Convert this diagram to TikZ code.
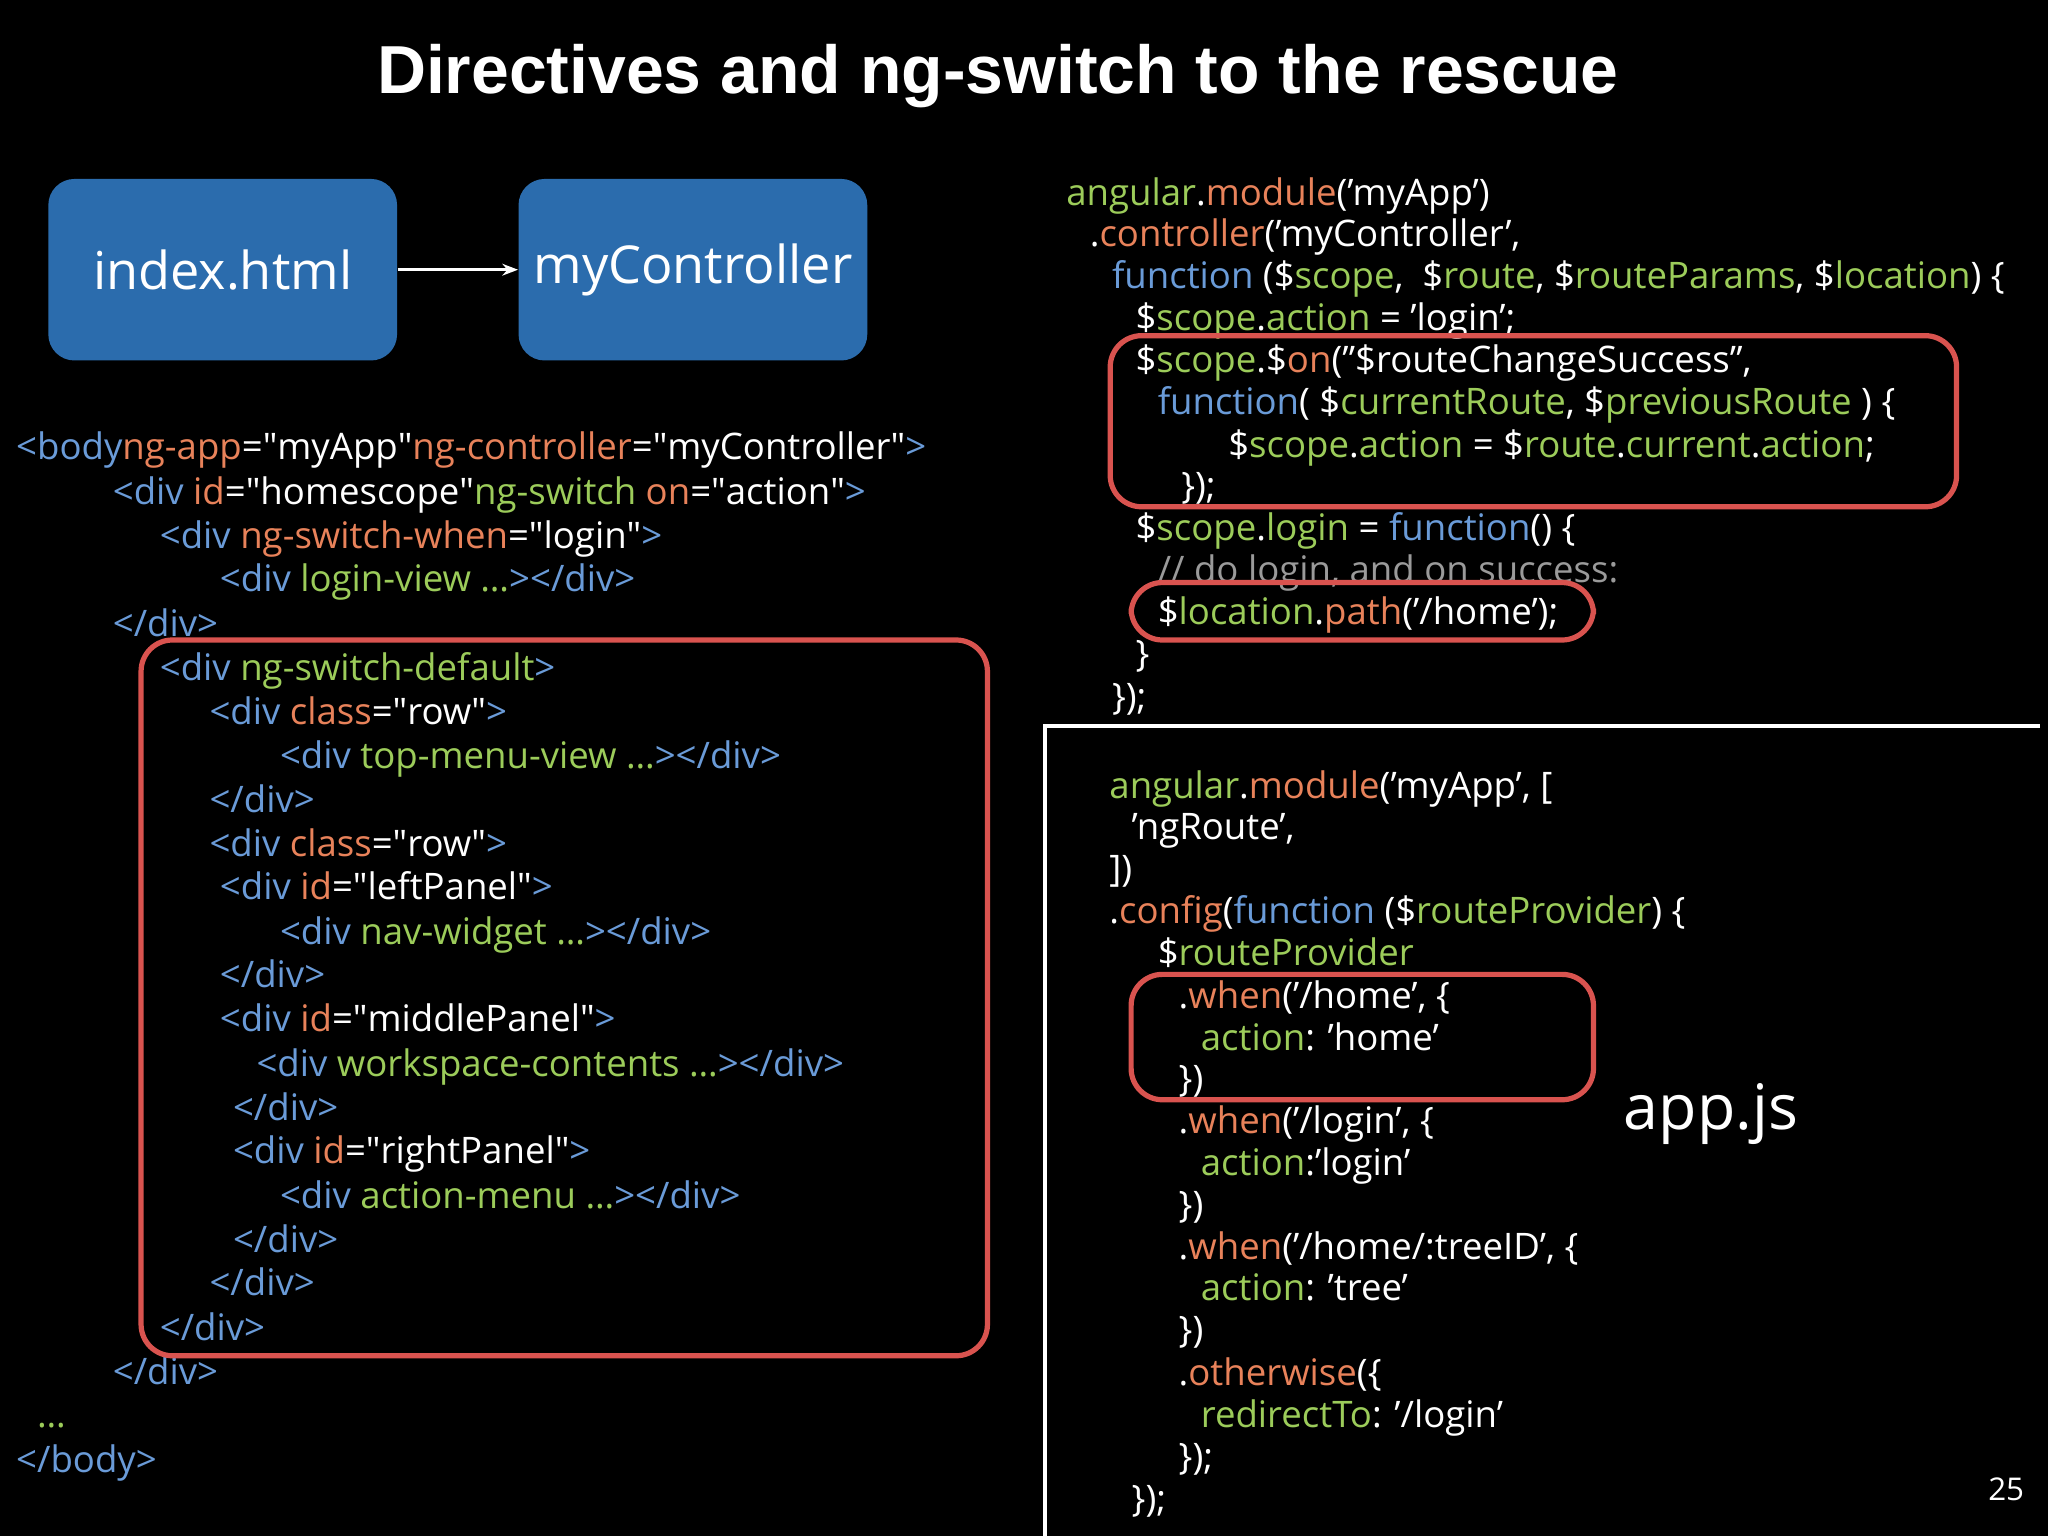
\documentclass[tikz,border=0pt]{standalone}
\usepackage{fontspec}
\setmainfont{Open Sans}
\newfontfamily\titlefont{Liberation Sans}
\usetikzlibrary{arrows.meta}
\definecolor{cb}{HTML}{6A9BD8}
\definecolor{co}{HTML}{E8825A}
\definecolor{cg}{HTML}{9CCC5A}
\definecolor{cgr}{HTML}{9A9A9A}
\definecolor{boxblue}{HTML}{2B6CAD}
\definecolor{redmark}{HTML}{D9534F}
\newcommand\cB[1]{\textcolor{cb}{#1}}
\newcommand\cO[1]{\textcolor{co}{#1}}
\newcommand\cG[1]{\textcolor{cg}{#1}}
\begin{document}
\begin{tikzpicture}[x=0.5pt,y=-0.5pt,
  code/.style={anchor=base west,inner sep=0pt,text=white,font=\fontsize{14}{16}\selectfont},
  blk/.style={fill=boxblue,rounded corners=10pt,text=white,font=\fontsize{20}{24}\selectfont,minimum width=133.5pt,minimum height=69.5pt,inner sep=0pt},
  redbox/.style={draw=redmark,line width=2pt,rounded corners=12pt}]
\fill[black] (0,0) rectangle (1568,1176);
\useasboundingbox (0,0) rectangle (1568,1176);
\node[text=white,font=\titlefont\bfseries\fontsize{26}{30}\selectfont] (title) at (764,58) {Directives and ng-switch to the rescue};
\node[blk] (idx) at (170.5,206.5) {index.html};
\node[blk] (ctl) at (530.5,206.5) {myController};
\draw[white,line width=1.3pt,-{Stealth[length=6pt]}] (idx.east) -- (ctl.west);
% left code
\node[code] (a1) at (12,352) {\cB{<body}\cO{ ng-app}=\textquotedbl myApp\textquotedbl\cO{ ng-controller}=\textquotedbl myController\textquotedbl\cB{>}};
\node[code] (a2) at (86,386) {\cB{<div }\cO{id}=\textquotedbl homescope\textquotedbl\cG{ ng-switch }\cO{on}=\textquotedbl action\textquotedbl\cB{>}};
\node[code] (a3) at (122,420) {\cB{<div }\cO{ng-switch-when}=\textquotedbl login\textquotedbl\cB{>}};
\node[code] (a4) at (168,453) {\cB{<div }\cG{login-view …}\cB{></div>}};
\node[code] (a5) at (86,487) {\cB{</div>}};
\node[code] (a6) at (122,521) {\cB{<div }\cG{ng-switch-default}\cB{>}};
\node[code] (a7) at (160,555) {\cB{<div }\cO{class}=\textquotedbl row\textquotedbl\cB{>}};
\node[code] (a8) at (214,588) {\cB{<div }\cG{top-menu-view …}\cB{></div>}};
\node[code] (a9) at (160,622) {\cB{</div>}};
\node[code] (a10) at (160,656) {\cB{<div }\cO{class}=\textquotedbl row\textquotedbl\cB{>}};
\node[code] (a11) at (168,689) {\cB{<div }\cO{id}=\textquotedbl leftPanel\textquotedbl\cB{>}};
\node[code] (a12) at (214,723) {\cB{<div }\cG{nav-widget …}\cB{></div>}};
\node[code] (a13) at (168,756) {\cB{</div>}};
\node[code] (a14) at (168,790) {\cB{<div }\cO{id}=\textquotedbl middlePanel\textquotedbl\cB{>}};
\node[code] (a15) at (196,824) {\cB{<div }\cG{workspace-contents …}\cB{></div>}};
\node[code] (a16) at (178,858) {\cB{</div>}};
\node[code] (a17) at (178,891) {\cB{<div }\cO{id}=\textquotedbl rightPanel\textquotedbl\cB{ >}};
\node[code] (a18) at (214,925) {\cB{<div }\cG{action-menu …}\cB{></div>}};
\node[code] (a19) at (178,959) {\cB{</div>}};
\node[code] (a20) at (160,992) {\cB{</div>}};
\node[code] (a21) at (122,1026) {\cB{</div>}};
\node[code] (a22) at (86,1060) {\cB{</div>}};
\node[code] (a23) at (28,1093) {\cG{…}};
\node[code] (a24) at (12,1127) {\cB{</body>}};
% right top code
\node[code] (b1) at (816,157) {\cG{angular}.\cO{module}('myApp')};
\node[code] (b2) at (834,189) {.\cO{controller}('myController',};
\node[code] (b3) at (851,221) {\cB{function} (\$\cG{scope},\ \ \$\cG{route}, \$\cG{routeParams}, \$\cG{location}) \{};
\node[code] (b4) at (869,253) {\$\cG{scope}.\cG{action} = 'login';};
\node[code] (b5) at (869,285) {\$\cG{scope}.\$\cO{on}("\$routeChangeSuccess",};
\node[code] (b6) at (886,317) {\cB{function}( \$\cG{currentRoute}, \$\cG{previousRoute} ) \{};
\node[code] (b7) at (940,350) {\$\cG{scope}.\cG{action} = \$\cG{route}.\cG{current}.\cG{action};};
\node[code] (b8) at (904,382) {\});};
\node[code] (b9) at (869,414) {\$\cG{scope}.\cG{login} = \cB{function}() \{};
\node[code] (b10) at (886,446) {\textcolor{cgr}{// do login, and on success:}};
\node[code] (b11) at (886,478) {\$\cG{location}.\cO{path}('/home');};
\node[code] (b12) at (869,510) {\}};
\node[code] (b13) at (851,543) {\});};
% divider
\coordinate (d1) at (800,1176);
\coordinate (d2) at (800,556);
\coordinate (d3) at (1562,556);
\draw[white,line width=1.5pt] (d1) -- (d2) -- (d3);
% bottom right code
\node[code] (c1) at (849,611) {\cG{angular}.\cO{module}('myApp', [};
\node[code] (c2) at (866,643) {'ngRoute',};
\node[code] (c3) at (849,675) {])};
\node[code] (c4) at (849,707) {.\cO{config}(\cB{function} (\$\cG{routeProvider}) \{};
\node[code] (c5) at (886,739) {\$\cG{routeProvider}};
\node[code] (c6) at (902,772) {.\cO{when}('/home', \{};
\node[code] (c7) at (919,804) {\cG{action}: 'home'};
\node[code] (c8) at (902,836) {\})};
\node[code] (c9) at (902,868) {.\cO{when}('/login', \{};
\node[code] (c10) at (919,900) {\cG{action}:'login'};
\node[code] (c11) at (902,932) {\})};
\node[code] (c12) at (902,964) {.\cO{when}('/home/:treeID', \{};
\node[code] (c13) at (919,996) {\cG{action}: 'tree'};
\node[code] (c14) at (902,1028) {\})};
\node[code] (c15) at (902,1061) {.\cO{otherwise}(\{};
\node[code] (c16) at (919,1093) {\cG{redirectTo}: '/login'};
\node[code] (c17) at (902,1125) {\});};
\node[code] (c18) at (866,1157) {\});};
\node[text=white,font=\fontsize{24}{28}\selectfont] (appjs) at (1310,853) {app.js};
\node[text=white,font=\fontsize{12}{14}\selectfont] (pg) at (1536,1140) {25};
% red marks
\draw[redbox] (108,490) rectangle (756,1038);
\draw[redbox] (850,257) rectangle (1498,388);
\draw[redbox] (866,446) rectangle (1220,490);
\draw[redbox] (866,746) rectangle (1220,842);
\end{tikzpicture}
\end{document}
